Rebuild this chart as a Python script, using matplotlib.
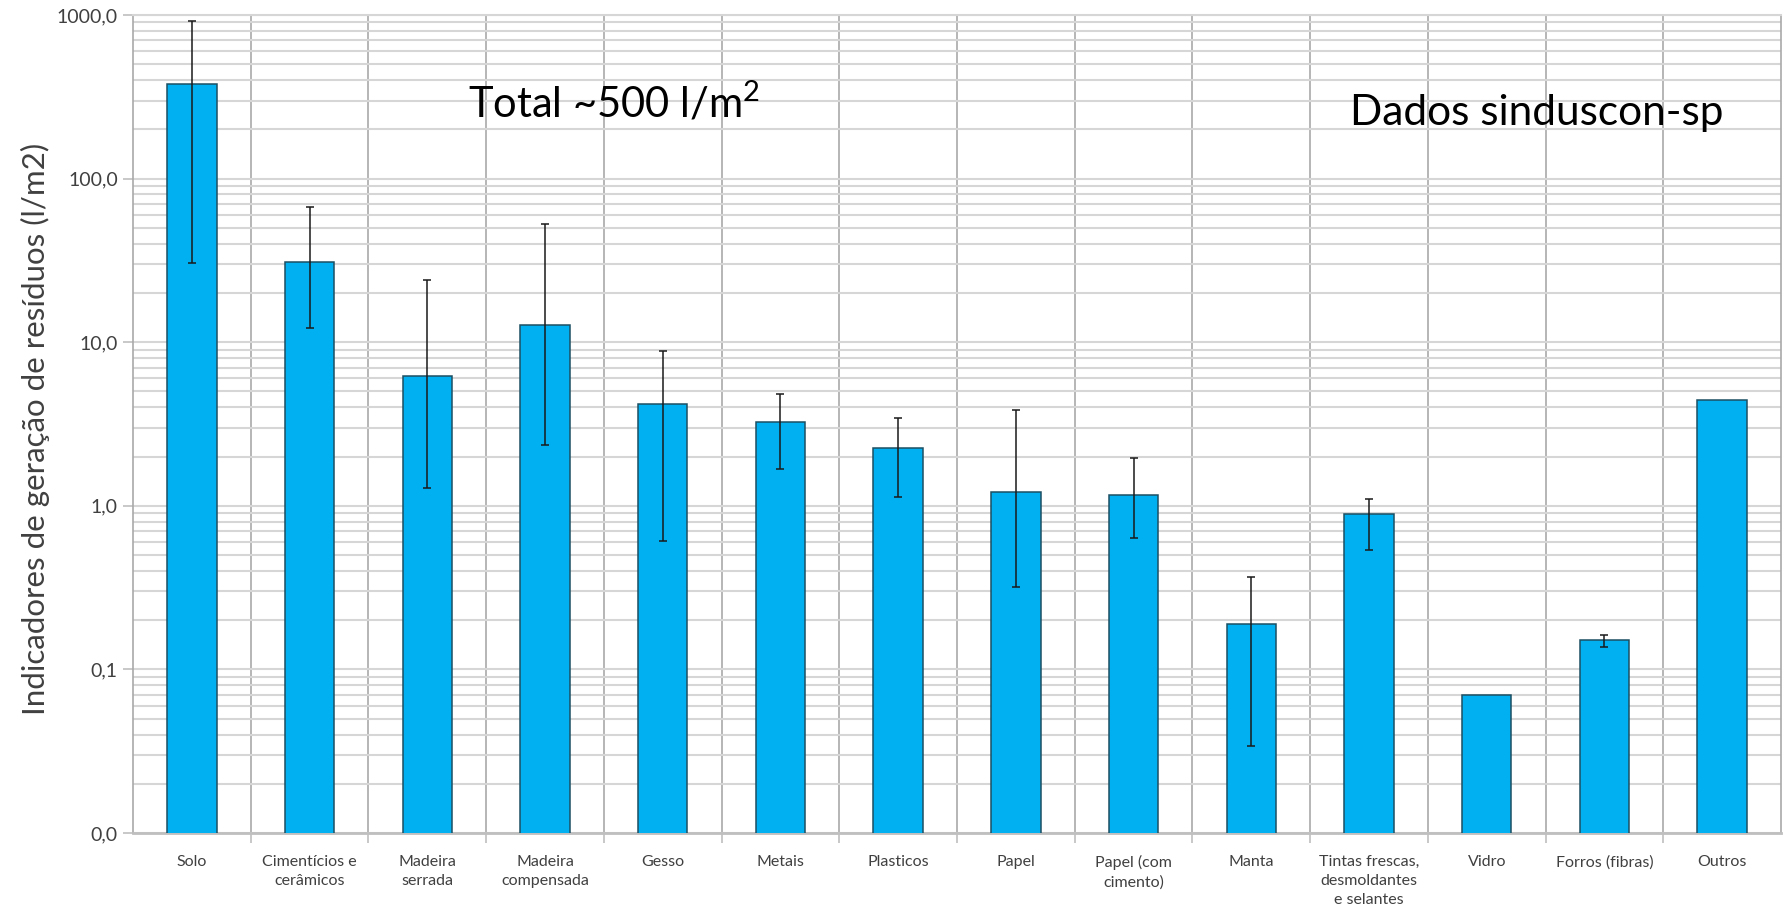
import numpy as np
import matplotlib
matplotlib.use("Agg")
import matplotlib.pyplot as plt
from matplotlib.ticker import FixedLocator, FuncFormatter, NullFormatter, LogLocator

plt.rcParams['font.family'] = ['Lato', 'DejaVu Sans']
plt.rcParams['mathtext.fontset'] = 'custom'
plt.rcParams['mathtext.rm'] = 'Lato'
plt.rcParams['mathtext.it'] = 'Lato'
plt.rcParams['mathtext.default'] = 'regular'

# indicadores de geracao de residuos por tipo (l/m2), media e faixa min-max
categorias = [
    'Solo',
    'Cimentícios e\ncerâmicos',
    'Madeira\nserrada',
    'Madeira\ncompensada',
    'Gesso',
    'Metais',
    'Plasticos',
    'Papel',
    'Papel (com\ncimento)',
    'Manta',
    'Tintas frescas,\ndesmoldantes\ne selantes',
    'Vidro',
    'Forros (fibras)',
    'Outros',
]
media = [380.0, 31.0, 6.2, 12.8, 4.2, 3.25, 2.25, 1.21, 1.16, 0.19, 0.89, 0.07, 0.151, 4.45]
maximo = [925.0, 67.0, 24.0, 53.0, 8.8, 4.8, 3.45, 3.85, 1.95, 0.365, 1.1, None, 0.162, None]
minimo = [30.5, 12.2, 1.28, 2.35, 0.61, 1.68, 1.13, 0.32, 0.64, 0.034, 0.54, None, 0.137, None]

AZUL = '#00b0f0'
CINZA_H = '#d6d6d6'
CINZA_V = '#a9a9a9'

fig = plt.figure(figsize=(17.89, 9.15), dpi=100)
ax = fig.add_axes([133 / 1789, 1 - 833 / 915, 1648 / 1789, 818 / 915])

x = np.arange(len(categorias))
ax.set_yscale('log')
ax.bar(x, media, width=0.42, color=AZUL, edgecolor='#1c4f63', linewidth=1.1, zorder=3)

# barras de erro so onde existe faixa
idx = [i for i in range(len(media)) if maximo[i] is not None]
m = np.array([media[i] for i in idx])
lo = m - np.array([minimo[i] for i in idx])
hi = np.array([maximo[i] for i in idx]) - m
ax.errorbar(x[idx], m, yerr=[lo, hi], fmt='none', ecolor='#1a1a1a',
            elinewidth=1.1, capsize=3, capthick=1.1, zorder=4)

ax.set_xlim(-0.5, len(categorias) - 0.5)
ax.set_ylim(0.01, 1000)

ax.yaxis.set_major_locator(FixedLocator([0.01, 0.1, 1, 10, 100, 1000]))
ax.yaxis.set_major_formatter(FuncFormatter(lambda v, p: '{:.1f}'.format(v).replace('.', ',')))
ax.yaxis.set_minor_locator(LogLocator(base=10, subs=np.arange(2, 10)))
ax.yaxis.set_minor_formatter(NullFormatter())
ax.grid(True, axis='y', which='both', color=CINZA_H, linewidth=1.5, zorder=0)

ax.set_xticks(x)
ax.set_xticklabels(categorias, fontsize=11.5, color='#404040', linespacing=1.45)
ax.set_xticks(np.arange(0.5, len(categorias) - 1, 1), minor=True)
ax.grid(True, axis='x', which='minor', color=CINZA_V, linewidth=1.2, zorder=0)

ax.tick_params(axis='x', which='major', length=0, pad=16)
ax.tick_params(axis='x', which='minor', length=7, color='#bfbfbf', width=1.2)
ax.tick_params(axis='y', which='major', length=7, color='#bfbfbf', width=1.2,
               labelsize=14, labelcolor='#404040', pad=4)
ax.tick_params(axis='y', which='minor', length=0)

for s in ['left', 'right']:
    ax.spines[s].set_color(CINZA_V)
    ax.spines[s].set_linewidth(1.2)
ax.spines['top'].set_color(CINZA_H)
ax.spines['top'].set_linewidth(1.5)
ax.spines['bottom'].set_color('#bfbfbf')
ax.spines['bottom'].set_linewidth(2)

fig.text(35 / 1789, 1 - 429 / 915, 'Indicadores de geração de resíduos (l/m2)',
         rotation=90, ha='center', va='center', fontsize=22.5, color='#404040')

ax.text(468 / 1789, 1 - 118 / 915, 'Total ~500 l/m$^2$', transform=fig.transFigure,
        fontsize=30, color='black', ha='left', va='baseline')
ax.text(1350 / 1789, 1 - 125 / 915, 'Dados sinduscon-sp', transform=fig.transFigure,
        fontsize=30.5, color='black', ha='left', va='baseline')

fig.savefig('out.png', dpi=100, facecolor='white')
